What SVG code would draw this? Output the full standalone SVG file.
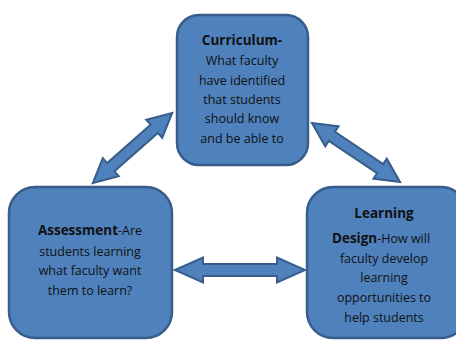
<svg xmlns="http://www.w3.org/2000/svg" width="456" height="340" viewBox="0 0 456 340">
<style>
.box{fill:#4F81BD;stroke:#385D8A;stroke-width:2.5}
.arr{fill:#4F81BD;stroke:#385D8A;stroke-width:2;stroke-linejoin:miter}
text{font-family:"Open Sans","Noto Sans","Liberation Sans",sans-serif;font-size:12.5px;fill:#111;text-anchor:middle}
.b{font-weight:bold;font-size:13.5px}
</style>
<rect width="456" height="340" fill="#fff"/>
<g id="connectors">
<polygon class="arr" transform="translate(132.5,148) rotate(-41.5)" points="-53,0 -29,-12 -29,-5.5 29,-5.5 29,-12 53,0 29,12 29,5.5 -29,5.5 -29,12"/>
<polygon class="arr" transform="translate(356,152.5) rotate(33.8)" points="-53,0 -29,-12 -29,-5.5 29,-5.5 29,-12 53,0 29,12 29,5.5 -29,5.5 -29,12"/>
<polygon class="arr" transform="translate(240,270)" points="-65,0 -37,-12.5 -37,-6 37,-6 37,-12.5 65,0 37,12.5 37,6 -37,6 -37,12.5"/>
</g>
<g id="curriculum">
<rect class="box" x="177" y="15" width="131" height="150" rx="22"/>
<text x="242" y="45" class="b">Curriculum-</text>
<text x="242" y="65">What faculty</text>
<text x="242" y="85">have identified</text>
<text x="242" y="104">that students</text>
<text x="242" y="123">should know</text>
<text x="242" y="143">and be able to</text>
</g>
<g id="assessment">
<rect class="box" x="9" y="187" width="163" height="151" rx="26"/>
<text x="90" y="235"><tspan class="b">Assessment</tspan>-Are</text>
<text x="90" y="256">students learning</text>
<text x="90" y="275">what faculty want</text>
<text x="90" y="295">them to learn?</text>
</g>
<g id="learning-design">
<rect class="box" x="307" y="187" width="160" height="151" rx="26"/>
<text x="384" y="218" class="b">Learning</text>
<text x="381" y="243"><tspan class="b">Design</tspan>-How will</text>
<text x="384" y="263">faculty develop</text>
<text x="384" y="282">learning</text>
<text x="384" y="302">opportunities to</text>
<text x="384" y="322">help students</text>
</g>
</svg>
